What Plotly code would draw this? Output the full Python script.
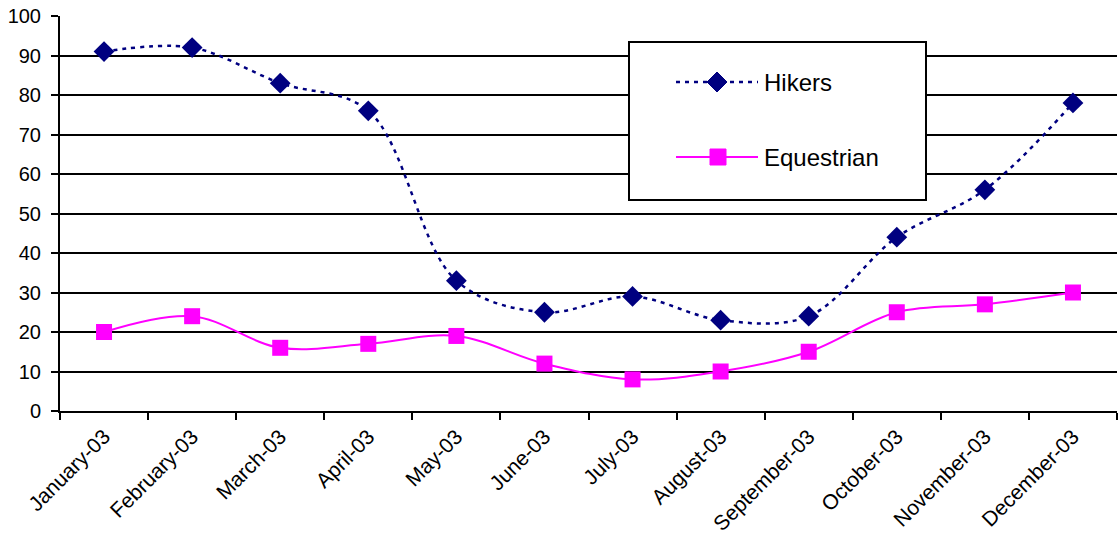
import plotly.graph_objects as go

months = ["January-03", "February-03", "March-03", "April-03", "May-03", "June-03",
          "July-03", "August-03", "September-03", "October-03", "November-03", "December-03"]
hikers = [91, 92, 83, 76, 33, 25, 29, 23, 24, 44, 56, 78]
equestrian = [20, 24, 16, 17, 19, 12, 8, 10, 15, 25, 27, 30]

W, H = 1119, 544
ML, MR, MT, MB = 60, 2, 16, 133

NAVY = "#000080"
MAGENTA = "#FF00FF"
HIKER_DASH = "4px,5px"
FONT = "Arial, Liberation Sans, sans-serif"

fig = go.Figure()
fig.add_trace(go.Scatter(
    x=months, y=hikers, name="Hikers", mode="lines+markers",
    line=dict(color=NAVY, width=2.5, dash=HIKER_DASH, shape="spline", smoothing=1),
    marker=dict(symbol="diamond", size=16, color=NAVY),
    showlegend=False,
))
fig.add_trace(go.Scatter(
    x=months, y=equestrian, name="Equestrian", mode="lines+markers",
    line=dict(color=MAGENTA, width=2, shape="spline", smoothing=1),
    marker=dict(symbol="square", size=16, color=MAGENTA),
    showlegend=False,
))

# helpers to place the legend panel in paper coordinates using pixel offsets
pw = W - ML - MR
ph = H - MT - MB
def px_x(v):
    return (v - ML) / pw
def px_y(v):
    return (H - MB - v) / ph

# legend frame
fig.add_shape(type="rect", xref="paper", yref="paper",
              x0=px_x(629), x1=px_x(926), y0=px_y(200), y1=px_y(42),
              line=dict(color="black", width=2), fillcolor="white", layer="above")

# legend entry: Hikers
fig.add_shape(type="line", xref="paper", yref="paper",
              x0=px_x(676), x1=px_x(758), y0=px_y(82), y1=px_y(82),
              line=dict(color=NAVY, width=2.5, dash=HIKER_DASH), layer="above")
cx, cy, r = 717, 82, 10
fig.add_shape(type="path", xref="paper", yref="paper", layer="above",
              path=(f"M {px_x(cx - r)} {px_y(cy)} L {px_x(cx)} {px_y(cy - r)} "
                    f"L {px_x(cx + r)} {px_y(cy)} L {px_x(cx)} {px_y(cy + r)} Z"),
              fillcolor=NAVY, line=dict(color=NAVY, width=1))
fig.add_annotation(xref="paper", yref="paper", x=px_x(762), y=px_y(82),
                   xanchor="left", yanchor="middle", showarrow=False,
                   text="Hikers", font=dict(family=FONT, size=24))

# legend entry: Equestrian
fig.add_shape(type="line", xref="paper", yref="paper",
              x0=px_x(676), x1=px_x(758), y0=px_y(157), y1=px_y(157),
              line=dict(color=MAGENTA, width=2), layer="above")
s = 8
fig.add_shape(type="rect", xref="paper", yref="paper", layer="above",
              x0=px_x(718 - s), x1=px_x(718 + s), y0=px_y(157 + s), y1=px_y(157 - s),
              fillcolor=MAGENTA, line=dict(color=MAGENTA, width=1))
fig.add_annotation(xref="paper", yref="paper", x=px_x(762), y=px_y(157),
                   xanchor="left", yanchor="middle", showarrow=False,
                   text="Equestrian", font=dict(family=FONT, size=24))

fig.update_layout(
    width=W, height=H,
    margin=dict(l=ML, r=MR, t=MT, b=MB, autoexpand=False),
    paper_bgcolor="white", plot_bgcolor="white",
    font=dict(family=FONT, size=20, color="black"),
    showlegend=False,
    xaxis=dict(
        type="category", range=[-0.5, 11.5], tickangle=-45,
        ticks="outside", ticklen=7, tickwidth=2, tickcolor="black", tickson="boundaries",
        showline=True, linecolor="black", linewidth=2, showgrid=False,
        tickfont=dict(family=FONT, size=21),
        ticklabelstandoff=3, automargin=False, fixedrange=True,
    ),
    yaxis=dict(
        range=[0, 100], dtick=10, tickmode="linear",
        ticks="outside", ticklen=7, tickwidth=2, tickcolor="black",
        showline=True, linecolor="black", linewidth=2,
        showgrid=True, gridcolor="black", gridwidth=2,
        zeroline=False,
        tickfont=dict(family=FONT, size=20),
        ticklabelstandoff=6, automargin=False, fixedrange=True,
    ),
)

fig.write_html("out.html")
